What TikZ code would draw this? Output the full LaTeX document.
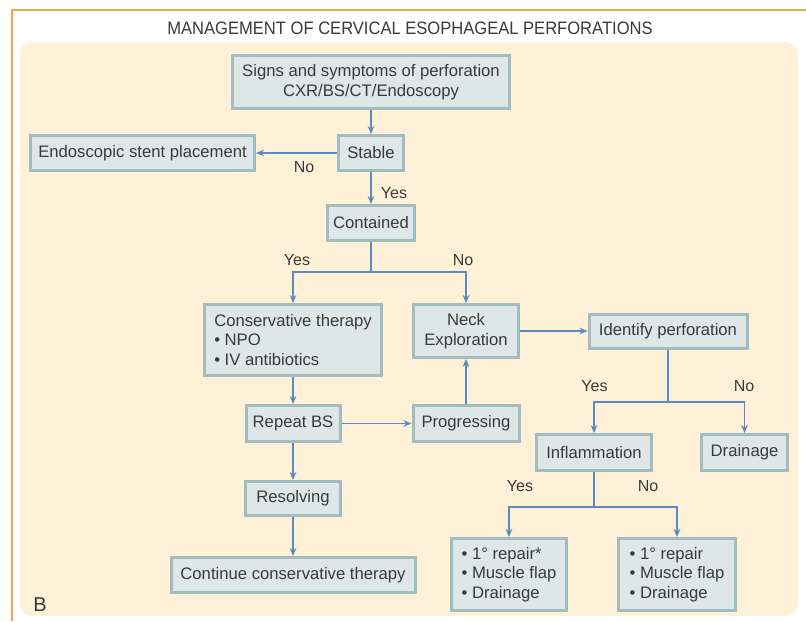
\documentclass[tikz,border=0pt]{standalone}
\usepackage{fontspec}
\setmainfont{Liberation Sans}
\newfontfamily\titlefont[FakeStretch=0.92]{Liberation Sans}
\usetikzlibrary{arrows.meta}

\definecolor{frameorange}{HTML}{F6A34E}
\definecolor{panelfill}{HTML}{FEF1D7}
\definecolor{boxfill}{HTML}{DDE7E8}
\definecolor{boxline}{HTML}{A2BDBF}
\definecolor{flowblue}{HTML}{5A8BC1}
\definecolor{inkgray}{HTML}{3A3A3A}

\tikzset{
  stepbox/.style={draw=boxline, fill=boxfill, line width=2.25pt, inner sep=0pt, align=center, text=inkgray, font=\fontsize{12.5}{15}\selectfont},
  listbox/.style={stepbox, align=left, font=\fontsize{12.5}{14.5}\selectfont},
  answer/.style={inner sep=0pt, text=inkgray, font=\fontsize{12}{14}\selectfont},
  link/.style={draw=flowblue, line width=1.1pt},
  linkarrow/.style={link, -{Stealth[length=6pt,width=5pt]}},
}

\begin{document}
\begin{tikzpicture}[x=0.75pt,y=0.75pt,yscale=-1,xscale=1]
        \useasboundingbox (0,0) rectangle (806,621);
        \fill[white] (0,0) rectangle (806,621);
        
        %Shape: Frame and panel
        \draw[frameorange, line width=1.5pt] (12,621) -- (12,10) -- (806,10);
        \fill[panelfill, rounded corners=9pt] (20,42) rectangle (798,616);
        
        % Text Node
        \node[text=inkgray] (title) at (410,28.5) {\titlefont\fontsize{13.5}{16}\selectfont MANAGEMENT OF CERVICAL ESOPHAGEAL PERFORATIONS};
        
        %Shape: Rectangle
        \node[stepbox, minimum width=207.75pt, minimum height=39.75pt] (signs) at (371,82) {Signs and symptoms of perforation\\CXR/BS/CT/Endoscopy};
        \node[stepbox, minimum width=48.75pt, minimum height=26.25pt] (stable) at (371,153) {Stable};
        \node[stepbox, minimum width=168pt, minimum height=26.25pt] (stent) at (142.5,153) {Endoscopic stent placement};
        \node[stepbox, minimum width=65.25pt, minimum height=26.25pt] (contained) at (371,223) {Contained};
        \node[listbox, minimum width=132.75pt, minimum height=53.25pt] (conserv) at (293,340) {Conservative therapy\\\textbullet\ NPO\\\textbullet\ IV antibiotics};
        \node[stepbox, minimum width=78.75pt, minimum height=39.75pt] (neck) at (466,331) {Neck\\Exploration};
        \node[stepbox, minimum width=118.5pt, minimum height=25.5pt] (identify) at (668,331) {Identify perforation};
        \node[stepbox, minimum width=70.5pt, minimum height=27pt] (repeat) at (293,423.5) {Repeat BS};
        \node[stepbox, minimum width=79.5pt, minimum height=27pt] (progress) at (466,423.5) {Progressing};
        \node[stepbox, minimum width=71.25pt, minimum height=25.5pt] (resolve) at (293,498.5) {Resolving};
        \node[stepbox, minimum width=183pt, minimum height=26.25pt] (continue) at (293,575) {Continue conservative therapy};
        \node[stepbox, minimum width=86.25pt, minimum height=27pt] (inflam) at (594,452.5) {Inflammation};
        \node[stepbox, minimum width=64.5pt, minimum height=27pt] (drain) at (744.5,452.5) {Drainage};
        \node[listbox, minimum width=86.25pt, minimum height=54pt] (repairA) at (509,574.5) {\textbullet\ 1° repair*\\\textbullet\ Muscle flap\\\textbullet\ Drainage};
        \node[listbox, minimum width=87.75pt, minimum height=54pt] (repairB) at (677,574.5) {\textbullet\ 1° repair\\\textbullet\ Muscle flap\\\textbullet\ Drainage};
        
        %Straight Lines
        \coordinate (splitA) at (371,272);
        \coordinate (splitB) at (668,402);
        \coordinate (splitC) at (594,507);
        \draw[linkarrow] (signs.south) -- (stable.north);
        \draw[linkarrow] (stable.west) -- (stent.east);
        \draw[linkarrow] (stable.south) -- (contained.north);
        \draw[link] (contained.south) -- (splitA);
        \draw[linkarrow] (splitA) -| (conserv.north);
        \draw[linkarrow] (splitA) -| (neck.north);
        \draw[linkarrow] (neck.east) -- (identify.west);
        \draw[linkarrow] (conserv.south) -- (repeat.north);
        \draw[linkarrow] (repeat.east) -- (progress.west);
        \draw[linkarrow] (progress.north) -- (neck.south);
        \draw[linkarrow] (repeat.south) -- (resolve.north);
        \draw[linkarrow] (resolve.south) -- (continue.north);
        \draw[link] (identify.south) -- (splitB);
        \draw[linkarrow] (splitB) -| (inflam.north);
        \draw[linkarrow] (splitB) -| (drain.north);
        \draw[link] (inflam.south) -- (splitC);
        \draw[linkarrow] (splitC) -| (repairA.north);
        \draw[linkarrow] (splitC) -| (repairB.north);
        
        % Text Node
        \node[answer] (noStable) at (304,167) {No};
        \node[answer] (yesStable) at (394,193) {Yes};
        \node[answer] (yesContained) at (297,260) {Yes};
        \node[answer] (noContained) at (463,260) {No};
        \node[answer] (yesIdentify) at (594.5,386) {Yes};
        \node[answer] (noIdentify) at (744,386) {No};
        \node[answer] (yesInflam) at (520,486) {Yes};
        \node[answer] (noInflam) at (648,486) {No};
        % Text Node
        \node[text=inkgray, font=\fontsize{15}{18}\selectfont] (panelB) at (40,605) {B};
        
\end{tikzpicture}
\end{document}
